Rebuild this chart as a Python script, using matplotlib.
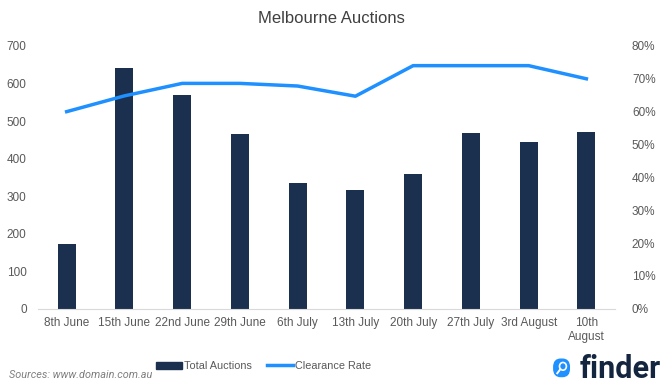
import numpy as np
import matplotlib.pyplot as plt
from matplotlib.patches import FancyBboxPatch, Circle
from matplotlib.lines import Line2D

# data
weeks = ['8th June', '15th June', '22nd June', '29th June', '6th July',
         '13th July', '20th July', '27th July', '3rd August', '10th\nAugust']
total_auctions = [172, 641, 569, 465, 336, 316, 359, 469, 445, 472]
clearance_rate = [60, 64.8, 68.6, 68.6, 67.8, 64.7, 74, 74, 74, 70]

bar_col = '#1b2f4e'
line_col = '#1e90ff'
grey = '#595959'
fam = 'Liberation Sans'

fig = plt.figure(figsize=(6.63, 3.86), dpi=100)
ax = fig.add_axes([0.057, 0.2, 0.871, 0.681])
x = np.arange(len(weeks))
ax.bar(x, total_auctions, width=0.31, color=bar_col, zorder=2)
ax.set_xlim(-0.5, len(weeks) - 0.5)
ax.set_ylim(0, 700)
ax.set_yticks(range(0, 701, 100))
ax.set_xticks(x)
ax.set_xticklabels(weeks, fontsize=8.5, color=grey, family=fam)
for lbl in ax.get_yticklabels():
    lbl.set_family(fam)
ax.tick_params(axis='y', labelsize=8.5, colors=grey, length=0, pad=8)
ax.tick_params(axis='x', length=0, pad=6)
for s in ['top', 'right', 'left']:
    ax.spines[s].set_visible(False)
ax.spines['bottom'].set_color('#d9d9d9')

ax2 = ax.twinx()
ax2.plot(x, clearance_rate, color=line_col, lw=2.5, solid_joinstyle='round', zorder=3)
ax2.set_ylim(0, 80)
ax2.set_yticks(range(0, 81, 10))
ax2.set_yticklabels([f'{v}%' for v in range(0, 81, 10)], family=fam)
ax2.tick_params(axis='y', labelsize=8.5, colors=grey, length=0, pad=12)
for s in ['top', 'right', 'left', 'bottom']:
    ax2.spines[s].set_visible(False)

fig.text(0.5, 0.953, 'Melbourne Auctions', ha='center', va='center', fontsize=12,
         color='#404040', family=fam)

handles = [plt.Rectangle((0, 0), 1, 1, color=bar_col),
           Line2D([0], [0], color=line_col, lw=2.5)]
fig.legend(handles, ['Total Auctions', 'Clearance Rate'], loc='center',
           bbox_to_anchor=(0.398, 0.052), ncol=2, frameon=False,
           prop={'family': fam, 'size': 7.8},
           handlelength=2.4, handleheight=0.6, handletextpad=0.2, columnspacing=1.4,
           labelcolor=grey)

fig.text(0.014, 0.028, 'Sources: www.domain.com.au', fontsize=7.8, style='italic',
         color='#7f7f7f', ha='left', va='center', family='Roboto')

# finder logo
fig.text(0.997, 0.045, 'finder', fontsize=22, fontweight='bold', color='#14263f',
         ha='right', va='center', family='Roboto')
lax = fig.add_axes([0.834, 0.022, 0.026, 0.05])
lax.set_xlim(0, 1)
lax.set_ylim(0, 1)
lax.axis('off')
lax.add_patch(FancyBboxPatch((0.05, 0.05), 0.9, 0.9, boxstyle='round,pad=0,rounding_size=0.4',
                             color='#1e90ff'))
lax.add_patch(Circle((0.58, 0.58), 0.2, fill=False, ec='white', lw=1.2))
lax.plot([0.43, 0.25], [0.43, 0.22], color='white', lw=1.4)

fig.savefig('out.png', dpi=100)
